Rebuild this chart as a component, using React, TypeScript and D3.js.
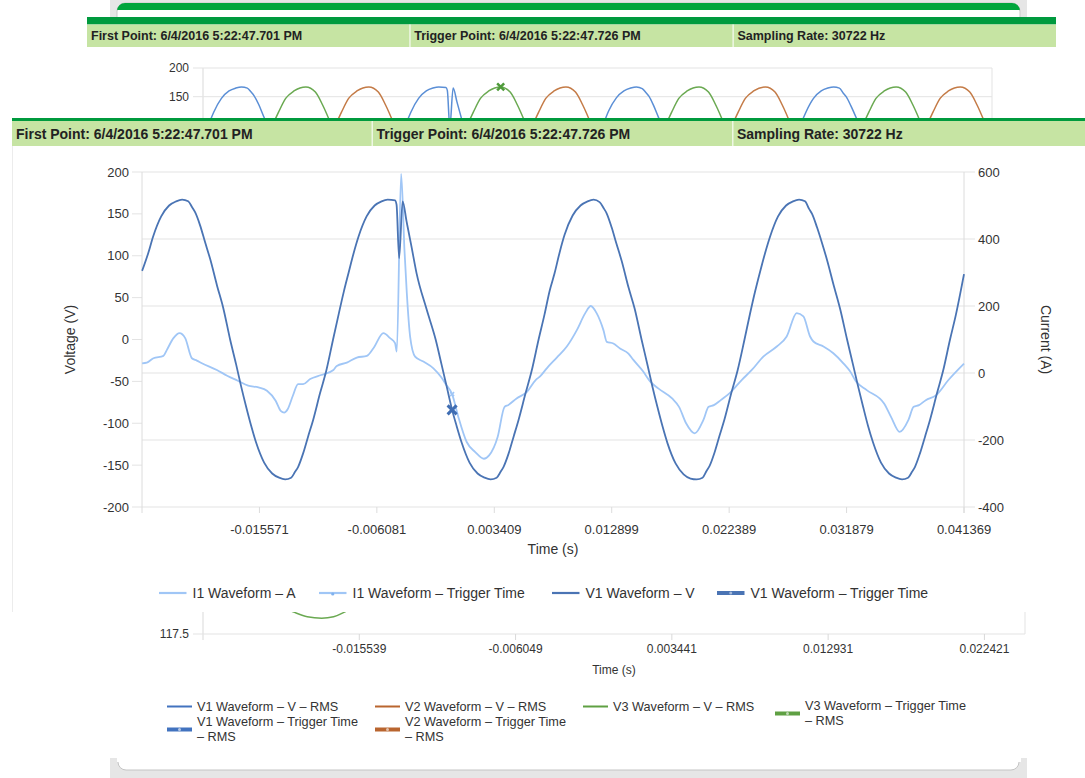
import * as d3 from 'd3'

const font = 'Arial, "Liberation Sans", sans-serif'

// Main waveform chart, times are ms from the trigger point
const v1Ms = [
  -25.05, -24.56, -24.16, -23.51, -22.87, -22.3, -21.82, -21.33, -21.01, -20.77, -20.36, -19.96, -19.55, -18.99, -18.5, -17.94,
  -17.45, -17.05, -16.65, -16.24, -15.84, -15.19, -14.54, -13.98, -13.49, -13.01, -12.69, -12.44, -12.04, -11.64, -11.23, -10.67, -10.18, -9.62,
  -9.17, -8.77, -8.36, -7.96, -7.56, -6.91, -6.26, -5.7, -5.21, -4.61, -4.49, -4.28, -4.0, -3.68, -3.27, -2.87, -2.06, -1.33,
  -0.85, -0.44, 0, 0.36, 0.77, 1.41, 2.06, 2.63, 3.11, 3.6, 3.92, 4.16, 4.57, 4.97, 5.37, 5.94, 6.42, 6.99,
  7.47, 7.88, 8.28, 8.69, 9.09, 9.74, 10.38, 10.95, 11.43, 11.92, 12.24, 12.48, 12.89, 13.29, 13.7, 14.26, 14.75, 15.31,
  15.8, 16.2, 16.6, 17.01, 17.41, 18.06, 18.71, 19.27, 19.76, 20.24, 20.56, 20.81, 21.21, 21.61, 22.02, 22.58, 23.07, 23.63,
  24.08, 24.48, 24.89, 25.29, 25.7, 26.34, 26.99, 27.55, 28.04, 28.52, 28.85, 29.09, 29.49, 29.9, 30.3, 30.87, 31.35, 31.92,
  32.4, 32.81, 33.21, 33.61, 34.02, 34.66, 35.31, 35.88, 36.36, 36.85, 37.17, 37.41, 37.81, 38.22, 38.62, 39.19, 39.67, 40.24,
  40.72, 41.37,
]
const v1Volts = [
  82, 103, 123, 147, 160, 165, 167, 165, 158, 152, 136, 116, 96, 64, 38, 0,
  -30, -56, -80, -103, -123, -147, -160, -165, -167, -165, -158, -152, -136, -116, -96, -64, -38, 0,
  30, 56, 80, 103, 123, 147, 160, 165, 167, 166, 161, 97, 165, 141, 110, 79, 36, 0,
  -30, -56, -84, -103, -123, -147, -160, -165, -167, -165, -158, -152, -136, -116, -96, -64, -38, 0,
  30, 58, 79, 104, 125, 148, 160, 165, 167, 164, 157, 151, 134, 114, 94, 62, 37, 0,
  -31, -57, -81, -104, -124, -148, -161, -166, -167, -165, -157, -151, -135, -115, -95, -63, -37, 0,
  31, 57, 81, 103, 123, 147, 160, 165, 167, 165, 156, 150, 134, 115, 95, 63, 37, 0,
  -30, -56, -80, -103, -123, -147, -160, -165, -167, -165, -158, -152, -136, -116, -96, -64, -38, 0,
  30, 78,
]
const i1Ms = [
  -25.05, -24.67, -24.14, -23.33, -23.05, -22.52, -22.03, -21.57, -21.03, -20.63, -20.22, -19.01, -18.18, -17.32, -16.48, -15.65,
  -14.96, -14.26, -13.85, -13.57, -13.29, -12.87, -12.45, -12.04, -11.47, -10.58,
  -9.59, -9.32, -8.51, -7.7, -6.89, -6.36, -5.55, -5.01, -4.61, -4.47, -4.12, -3.85, -3.66, -3.39, -2.99, -2.32, -1.51, -0.89, -0.48, 0,
  0.48, 1.18, 1.87, 2.57, 2.99, 3.68, 4.24, 4.52, 5.21, 6.05, 6.75, 7.11, 7.65, 8.46, 9.27, 10.08, 10.75, 11.21, 11.69, 12.23, 12.5,
  13.03, 13.57, 14.25, 14.65,
  15.43, 16, 16.66, 17.78, 18.34, 18.91, 19.61, 20.31, 20.73, 21.15, 21.71, 22.41, 23.4, 24.22, 25.15, 26.24, 27.04, 27.85, 28.39,
  28.93, 29.2, 30.01, 30.81, 31.62,
  32.16, 32.64, 33.51, 34.91, 35.47, 36.17, 36.88, 37.3, 37.73, 38.28, 39.12, 40.11, 41.37,
]
const i1Amps = [
  29, 31, 44, 51, 69, 104, 119, 104, 44, 37, 29, 9, -8, -23, -38, -43,
  -53, -83, -113, -118, -108, -68, -33, -33, -18, -6,
  9, 21, 31, 46, 51, 74, 119, 104, 89, 64, 594, 367, 238, 108, 49, 34, 14, -12, -35, -63,
  -128, -206, -236, -256, -246, -191, -101, -96, -76, -56, -21, -10, 14, 46, 79, 128, 178, 200, 178, 128, 93,
  88, 73, 58, 39,
  5, -25, -46, -76, -101, -150, -180, -140, -101, -96, -81, -61, -21, 9, 49, 79, 109, 179, 169,
  109, 94, 79, 59, 29,
  5, -25, -51, -91, -131, -176, -140, -101, -96, -81, -66, -21, 28,
]
const v1TriggerMs = [0]
const v1TriggerVolts = [-84]
const i1TriggerMs = [0]
const i1TriggerAmps = [-63]

const mainTimeTicks = [-0.015571, -0.006081, 0.003409, 0.012899, 0.022389, 0.031879, 0.041369]
const voltTicks = [200, 150, 100, 50, 0, -50, -100, -150, -200]
const ampTicks = [600, 400, 200, 0, -200, -400]

// Page chart behind the overlay: V1 / V2 / V3 waveforms
const v2Ms = [
  -25.06, -23.9, -21.2, -19.5, -17.5, -15.5, -14.3, -13.4, -12.8, -12.1, -11.1, -10.3, -9.7, -8.9, -7.2, -4.5, -2.8, -0.8,
  1.1, 2.3, 3.2, 3.8, 4.5, 5.5, 6.3, 6.9, 7.7, 9.4, 12.1, 13.8, 15.8, 17.9, 19.1, 20.0, 20.6, 21.3, 22.3, 23.1, 23.7, 24.5,
  26.2, 28.9, 30.6, 32.6, 34.3, 35.5, 36.4, 37.0, 37.7, 38.7, 39.5, 40.1, 40.9, 41.37,
]
const v2Volts = [
  72, 0, -147, -167, -116, 0, 80, 123, 147, 160, 167, 158, 136, 98, 0, -147, -167, -116,
  0, 80, 123, 147, 160, 167, 158, 136, 98, 0, -147, -167, -116, 0, 80, 123, 147, 160, 167, 158, 136, 98,
  0, -147, -167, -116, 0, 80, 123, 147, 160, 167, 158, 136, 98, 75,
]
const v3Ms = [
  -25.06, -22.8, -20.8, -19.6, -18.7, -18.1, -17.4, -16.4, -15.6, -15.0, -14.2, -12.5, -9.8, -8.1, -6.2, -4.4, -3.2, -2.3,
  -1.7, -1.0, 0, 0.8, 1.4, 2.2, 3.9, 6.6, 8.4, 10.4, 12.3, 13.5, 14.4, 15.0, 15.7, 16.7, 17.5, 18.1, 18.9, 20.6,
  23.3, 25.0, 27.0, 28.9, 30.1, 31.0, 31.6, 32.3, 33.3, 34.1, 34.7, 35.5, 37.2, 39.9, 41.37,
]
const v3Volts = [
  -166, -116, 0, 80, 123, 147, 160, 167, 158, 136, 98, 0, -147, -167, -116, 0, 80, 123,
  147, 160, 167, 158, 136, 98, 0, -147, -167, -116, 0, 80, 123, 147, 160, 167, 158, 136, 98, 0,
  -147, -167, -116, 0, 80, 123, 147, 160, 167, 158, 136, 98, 0, -147, -165,
]
const v3TriggerMs = [0]
const v3TriggerVolts = [167]
const pageVoltTicks = [200, 150, 100]
const pageVoltLabels = [200, 150]

// RMS chart (only its bottom edge shows)
const rmsTimeTicks = [-0.015539, -0.006049, 0.003441, 0.012931, 0.022421]
const rmsTicks = [117.5]
const v3RmsMs = [-25.03, -22.6, -20.9, -19.56, -18.7, -17.82, -17.1, -16.41, -14.6, -12.0, -8.0, 0, 10.0, 24.89]
const v3RmsVolts = [118.9, 118.5, 118.2, 117.99, 117.88, 117.85, 117.88, 117.99, 118.3, 118.7, 118.9, 119.0, 118.9, 118.8]

const headerInfo = [
  'First Point: 6/4/2016 5:22:47.701 PM',
  'Trigger Point: 6/4/2016 5:22:47.726 PM',
  'Sampling Rate: 30722 Hz',
]

const colors = {
  v1: '#4a74b4',
  i1: '#a0c6f6',
  pageV1: '#5b8fd6',
  pageV2: '#c47b47',
  pageV3: '#6aa951',
  grid: '#e3e3e3',
  text: '#333',
}

const mainLegend = [
  { label: 'I1 Waveform – A', color: colors.i1, kind: 'line', x: 159 },
  { label: 'I1 Waveform – Trigger Time', color: colors.i1, kind: 'dot', x: 319 },
  { label: 'V1 Waveform – V', color: colors.v1, kind: 'line', x: 552 },
  { label: 'V1 Waveform – Trigger Time', color: colors.v1, kind: 'cross', x: 717 },
]
const rmsLegend = [
  { lines: ['V1 Waveform – V – RMS'], color: '#4273bf', kind: 'line', x: 167, y: 706.5 },
  { lines: ['V2 Waveform – V – RMS'], color: '#b9652f', kind: 'line', x: 375, y: 706.5 },
  { lines: ['V3 Waveform – V – RMS'], color: '#5fa043', kind: 'line', x: 583, y: 706.5 },
  { lines: ['V3 Waveform – Trigger Time', '– RMS'], color: '#5fa043', kind: 'cross', x: 775, y: 706 },
  { lines: ['V1 Waveform – Trigger Time', '– RMS'], color: '#4273bf', kind: 'cross', x: 167, y: 722 },
  { lines: ['V2 Waveform – Trigger Time', '– RMS'], color: '#b9652f', kind: 'cross', x: 375, y: 722 },
]

type Scale = d3.ScaleLinear<number, number>

function curve(xs: number[], ys: number[], sx: Scale, sy: Scale) {
  return (
    d3
      .line<number>()
      .x((d) => sx(d))
      .y((_, i) => sy(ys[i]))
      .curve(d3.curveMonotoneX)(xs) ?? ''
  )
}

function cross(x: number, y: number, s: number) {
  return `M${x - s},${y - s}L${x + s},${y + s}M${x - s},${y + s}L${x + s},${y - s}`
}

function InfoBar(p: { x: number; y: number; width: number; col: number; band: number; h: number; size: number; pad: number }) {
  return (
    <g>
      <rect x={p.x} y={p.y} width={p.width} height={p.band} fill="#009a3e" />
      <rect x={p.x} y={p.y + p.band} width={p.width} height={p.h} fill="#c6e4a3" />
      {headerInfo.map((t, i) => (
        <g key={t}>
          {i > 0 && <rect x={p.x + p.col * i - 1} y={p.y + p.band} width={1.5} height={p.h} fill="#eef7e4" />}
          <text
            x={p.x + p.col * i + p.pad}
            y={p.y + p.band + p.h / 2}
            dy="0.36em"
            fontSize={p.size}
            fontWeight="bold"
            fill="#222"
          >
            {t}
          </text>
        </g>
      ))}
    </g>
  )
}

export default function App() {
  // main overlay chart
  const mx = d3.scaleLinear().domain([-25.061, 41.369]).range([142, 964])
  const mv = d3.scaleLinear().domain([-200, 200]).range([507, 172])
  const ma = d3.scaleLinear().domain([-400, 600]).range([507, 172])

  // page waveform chart behind
  const px = d3.scaleLinear().domain([-25.061, 41.369]).range([203, 992])
  const pv = d3.scaleLinear().domain([-200, 200]).range([297.6, 68])

  // rms chart at the bottom
  const rx = d3.scaleLinear().domain([-25.029, 24.885]).range([203, 1025])
  const rv = d3.scaleLinear().domain([117.5, 122.5]).range([634, 408])

  const [mLeft, mRight] = mx.range()
  const [mBottom, mTop] = mv.range()

  return (
    <svg
      width={1085}
      height={778}
      style={{ position: 'absolute', left: 0, top: 0 }}
      fontFamily={font}
    >
      <rect width={1085} height={778} fill="#fff" />

      {/* page background and card */}
      <rect x={110} y={0} width={917} height={20} fill="#e6e6e6" />
      <rect x={110} y={758} width={917} height={20} fill="#e6e6e6" />
      <path d="M117,20V11a8,8 0 0 1 8,-8H1012a8,8 0 0 1 8,8V20Z" fill="#fff" stroke="#c9c9c9" />
      <path d="M117,10V11a8,8 0 0 1 8,-8H1012a8,8 0 0 1 8,8V10Z" fill="#00a53c" />
      <path d="M118,740V762a8,8 0 0 0 8,8H1011a8,8 0 0 0 8,-8V740Z" fill="#fff" stroke="#c4c4c4" />
      <rect x={117} y={736} width={904} height={26} fill="#fff" />

      <InfoBar x={87} y={17} width={969} col={323.2} band={7.5} h={22.5} size={12.5} pad={4} />

      {/* page waveform chart */}
      <g fontSize={12} fill={colors.text}>
        <line x1={203} x2={203} y1={pv(200)} y2={pv(-200)} stroke="#d9d9d9" />
        <line x1={992} x2={992} y1={pv(200)} y2={pv(-200)} stroke={colors.grid} />
        {pageVoltTicks.map((v) => (
          <line key={v} x1={193} x2={992} y1={pv(v)} y2={pv(v)} stroke={colors.grid} />
        ))}
        {pageVoltLabels.map((v) => (
          <text key={v} x={189} y={pv(v)} dy="0.35em" textAnchor="end">
            {v}
          </text>
        ))}
        <g fill="none" strokeWidth={1.5}>
          <path d={curve(v1Ms, v1Volts, px, pv)} stroke={colors.pageV1} />
          <path d={curve(v2Ms, v2Volts, px, pv)} stroke={colors.pageV2} />
          <path d={curve(v3Ms, v3Volts, px, pv)} stroke={colors.pageV3} />
        </g>
        {v3TriggerMs.map((t, i) => (
          <path key={t} d={cross(px(t), pv(v3TriggerVolts[i]), 3.5)} stroke="#4e9a3a" strokeWidth={2.5} />
        ))}
      </g>

      {/* rms chart */}
      <g fontSize={12} fill={colors.text}>
        <line x1={203} x2={203} y1={rv(122.5)} y2={640} stroke="#d9d9d9" />
        <line x1={1025} x2={1025} y1={rv(122.5)} y2={rv(117.5)} stroke={colors.grid} />
        {rmsTicks.map((v) => (
          <g key={v}>
            <line x1={193} x2={1025} y1={rv(v)} y2={rv(v)} stroke={colors.grid} />
            <text x={189} y={rv(v)} dy="0.35em" textAnchor="end">
              {v}
            </text>
          </g>
        ))}
        {rmsTimeTicks.map((t) => (
          <g key={t} transform={`translate(${rx(t * 1000)},${rv(117.5)})`}>
            <line y2={6} stroke="#d9d9d9" />
            <text y={15} dy="0.35em" textAnchor="middle">
              {t.toFixed(6)}
            </text>
          </g>
        ))}
        <text x={614} y={670} dy="0.35em" textAnchor="middle">
          Time (s)
        </text>
        <path d={curve(v3RmsMs, v3RmsVolts, rx, rv)} fill="none" stroke={colors.pageV3} strokeWidth={1.5} />
      </g>

      {/* rms legend */}
      <g fontSize={12.7} fill={colors.text}>
        {rmsLegend.map((d) => {
          const my = d.y + ((d.lines.length - 1) * 15) / 2
          return (
            <g key={d.lines[0]}>
              <line
                x1={d.x}
                x2={d.x + 25}
                y1={my}
                y2={my}
                stroke={d.color}
                strokeWidth={d.kind === 'cross' ? 4 : 2}
              />
              {d.kind === 'cross' && <circle cx={d.x + 12.5} cy={my} r={1.5} fill="#fff" opacity={0.6} />}
              {d.lines.map((l, k) => (
                <text key={l} x={d.x + 30} y={d.y + k * 15} dy="0.35em">
                  {l}
                </text>
              ))}
            </g>
          )
        })}
      </g>

      {/* overlay panel */}
      <rect x={12} y={118} width={1080} height={494} fill="#fff" />
      <line x1={12.5} x2={12.5} y1={146} y2={612} stroke="#ececec" />
      <InfoBar x={12} y={118} width={1080} col={360.5} band={3} h={25} size={14} pad={4} />

      <g fontSize={13} fill={colors.text}>
        {ampTicks.map((a) => (
          <g key={a}>
            <line x1={mLeft} x2={mRight + 11} y1={ma(a)} y2={ma(a)} stroke={colors.grid} />
            <text x={mRight + 14} y={ma(a)} dy="0.35em">
              {a}
            </text>
          </g>
        ))}
        {voltTicks.map((v) => (
          <g key={v}>
            <line x1={mLeft - 10} x2={mLeft} y1={mv(v)} y2={mv(v)} stroke={colors.grid} />
            <text x={mLeft - 13} y={mv(v)} dy="0.35em" textAnchor="end">
              {v}
            </text>
          </g>
        ))}
        <line x1={mLeft} x2={mLeft} y1={mTop} y2={mBottom + 6} stroke="#dcdcdc" />
        <line x1={mRight} x2={mRight} y1={mTop} y2={mBottom + 6} stroke="#dcdcdc" />
        {mainTimeTicks.map((t) => (
          <g key={t} transform={`translate(${mx(t * 1000)},${mBottom})`}>
            <line y2={6} stroke="#dcdcdc" />
            <text y={22} dy="0.35em" textAnchor="middle">
              {t.toFixed(6)}
            </text>
          </g>
        ))}
        <text x={(mLeft + mRight) / 2} y={549} dy="0.35em" textAnchor="middle" fontSize={14}>
          Time (s)
        </text>
        <text transform={`translate(70,${(mTop + mBottom) / 2}) rotate(-90)`} dy="0.35em" textAnchor="middle" fontSize={14}>
          Voltage (V)
        </text>
        <text transform={`translate(1046,${(mTop + mBottom) / 2}) rotate(90)`} dy="0.35em" textAnchor="middle" fontSize={14}>
          Current (A)
        </text>
      </g>

      <g fill="none" strokeLinejoin="round">
        <path d={curve(i1Ms, i1Amps, mx, ma)} stroke={colors.i1} strokeWidth={1.8} />
        <path d={curve(v1Ms, v1Volts, mx, mv)} stroke={colors.v1} strokeWidth={1.8} />
      </g>
      {i1TriggerMs.map((t, i) => (
        <path key={t} d={cross(mx(t), ma(i1TriggerAmps[i]), 2)} stroke={colors.i1} strokeWidth={1.5} />
      ))}
      {v1TriggerMs.map((t, i) => (
        <path key={t} d={cross(mx(t), mv(v1TriggerVolts[i]), 4.5)} stroke="#3f6db3" strokeWidth={3} />
      ))}

      {/* main legend */}
      <g fontSize={14} fill={colors.text}>
        {mainLegend.map((d) => (
          <g key={d.label}>
            <line
              x1={d.x}
              x2={d.x + 27.5}
              y1={593}
              y2={593}
              stroke={d.color}
              strokeWidth={d.kind === 'cross' ? 4 : 2.2}
            />
            {d.kind === 'dot' && <circle cx={d.x + 13.75} cy={594} r={1.6} fill="#7fb1ee" />}
            {d.kind === 'cross' && <circle cx={d.x + 13.75} cy={593} r={1.5} fill="#fff" opacity={0.5} />}
            <text x={d.x + 33.5} y={593} dy="0.35em">
              {d.label}
            </text>
          </g>
        ))}
      </g>
    </svg>
  )
}
